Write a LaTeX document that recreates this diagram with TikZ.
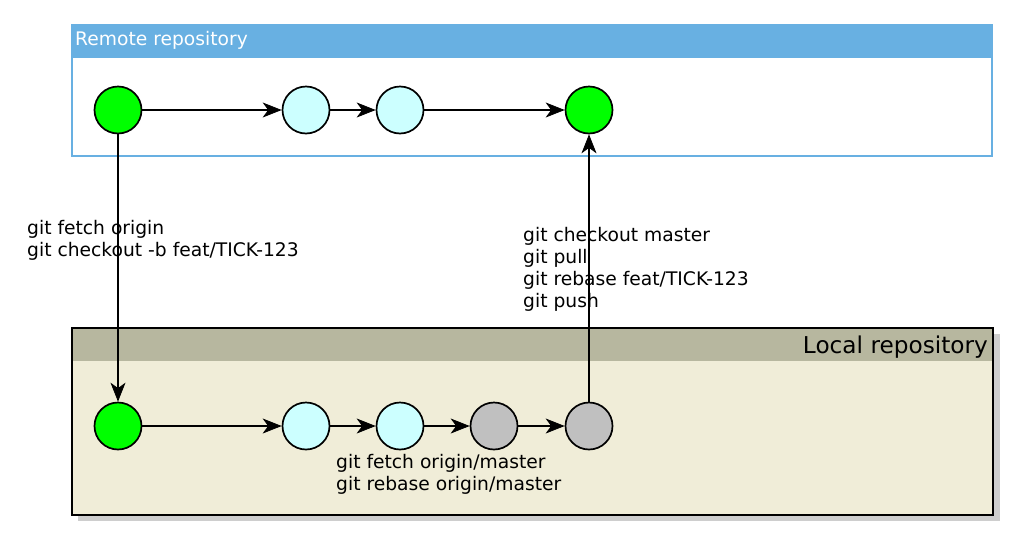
\documentclass[tikz,border=0pt]{standalone}
\usepackage{fontspec}
\setmainfont{DejaVu Sans}
\usetikzlibrary{arrows.meta}
\definecolor{remblue}{RGB}{104,176,226}
\definecolor{lochead}{RGB}{183,183,159}
\definecolor{locbody}{RGB}{240,237,216}
\definecolor{shadowgray}{RGB}{206,206,206}
\definecolor{cgreen}{RGB}{0,255,0}
\definecolor{ccyan}{RGB}{204,255,255}
\definecolor{cgray}{RGB}{192,192,192}
\begin{document}
\begin{tikzpicture}[x=1pt,y=-1pt,
  commit/.style={circle,draw=black,line width=1.7pt,minimum size=47pt,inner sep=0pt},
  link/.style={line width=1.5pt,-{Stealth[length=19pt,width=15pt,inset=5.5pt,line width=0.8pt]}},
  cmd/.style={anchor=north west,inner sep=0pt,align=left,font=\fontsize{18.7}{22}\selectfont}]
\useasboundingbox (0,0) rectangle (1024,544);
% Remote repository frame
\fill[white] (72,25) rectangle (992,156);
\fill[remblue] (72,25) rectangle (992,58);
\draw[remblue,line width=1.4pt] (72,25) rectangle (992,156);
\node[anchor=base west,inner sep=0pt,text=white,font=\fontsize{18.7}{22}\selectfont] (rtitle) at (75,45) {Remote repository};
% Local repository frame
\fill[shadowgray] (78,334) rectangle (1000,521);
\fill[locbody] (72,328) rectangle (993,515);
\fill[lochead] (72,328) rectangle (993,361);
\draw[black,line width=1.5pt] (72,328) rectangle (993,515);
\node[anchor=base east,inner sep=0pt,font=\fontsize{23.2}{27}\selectfont] (ltitle) at (988,353) {Local repository};
% commits
\node[commit,fill=cgreen] (r1) at (118,110) {};
\node[commit,fill=ccyan] (r2) at (306,110) {};
\node[commit,fill=ccyan] (r3) at (400,110) {};
\node[commit,fill=cgreen] (r4) at (589,110) {};
\node[commit,fill=cgreen] (l1) at (118,426) {};
\node[commit,fill=ccyan] (l2) at (306,426) {};
\node[commit,fill=ccyan] (l3) at (400,426) {};
\node[commit,fill=cgray] (l4) at (494,426) {};
\node[commit,fill=cgray] (l5) at (589,426) {};
% connectors
\draw[link] (r1) -- (r2);
\draw[link] (r2) -- (r3);
\draw[link] (r3) -- (r4);
\draw[link] (l1) -- (l2);
\draw[link] (l2) -- (l3);
\draw[link] (l3) -- (l4);
\draw[link] (l4) -- (l5);
\draw[link] (r1) -- (l1);
\draw[link] (l5) -- (r4);
% labels
\node[cmd] (lab1) at (27,219.8) {git fetch origin\\git checkout -b feat/TICK-123};
\node[cmd] (lab2) at (523,227.5) {git checkout master\\git pull\\git rebase feat/TICK-123\\git push};
\node[cmd] (lab3) at (336,454.5) {git fetch origin/master\\git rebase origin/master};
\end{tikzpicture}
\end{document}
